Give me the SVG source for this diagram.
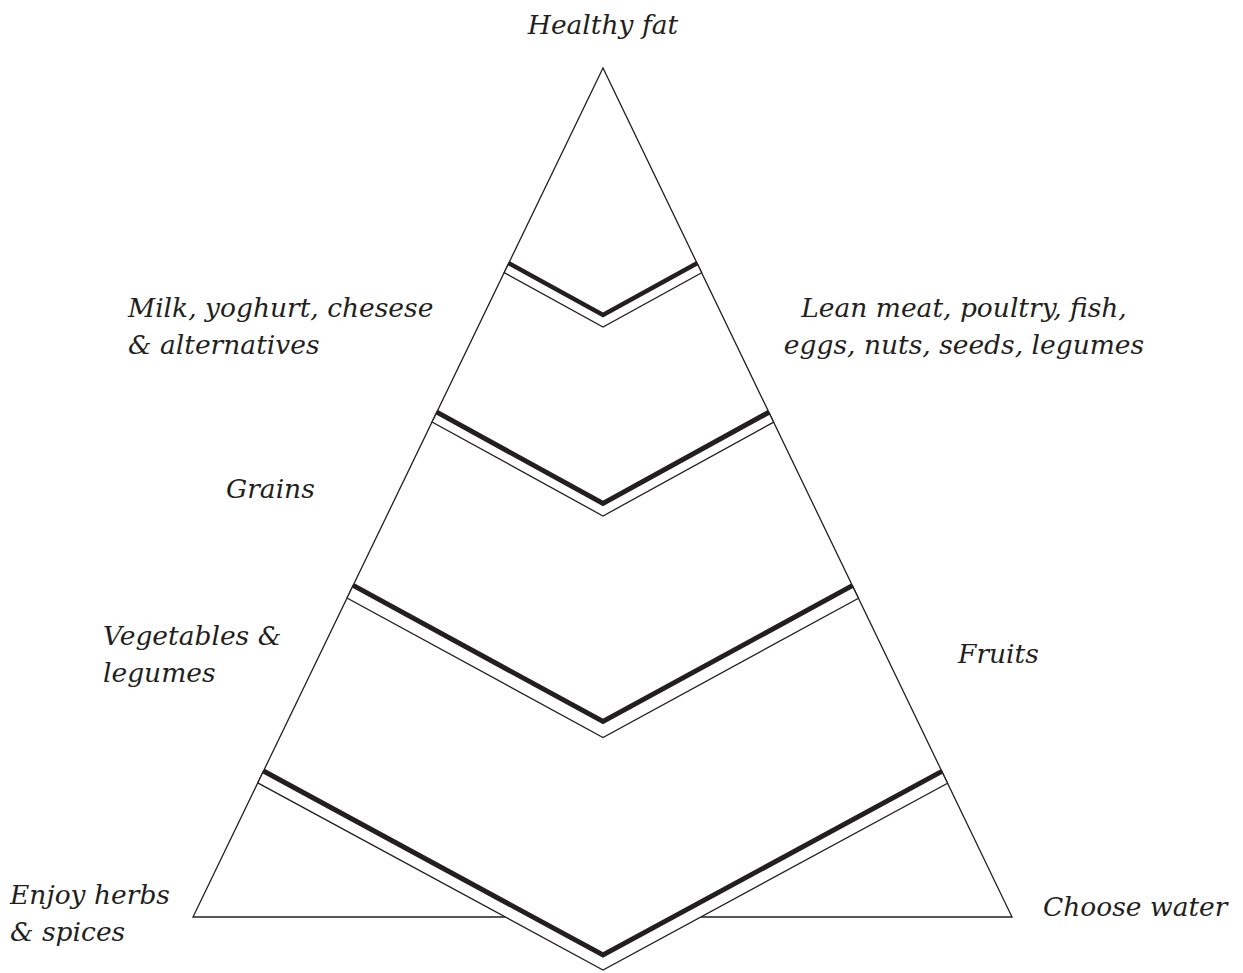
<svg xmlns="http://www.w3.org/2000/svg" width="1243" height="973" viewBox="0 0 1243 973">
<style>
.lbl{font-family:"DejaVu Serif","Liberation Serif",serif;font-style:italic;font-size:26.5px;fill:#231f20}
.tri{fill:none;stroke:#231f20;stroke-width:1.3}
.band{fill:#fff;stroke:#231f20;stroke-width:1.3;stroke-linejoin:miter}
.thick{fill:none;stroke:#231f20;stroke-width:5;stroke-linejoin:miter;stroke-miterlimit:10}
</style>
<rect width="1243" height="973" fill="#fff"/>
<g id="pyramid">
<polyline class="tri" points="505.2,917 193,917 603,68 1012,917 700.8,917"/>
</g>
<g id="connectors">
<g id="chevron1">
<polygon class="band" points="508.75,263.16 603,315 697.07,263.26 701.64,272.75 603,327 504.17,272.65"/>
<polyline class="thick" style="stroke-width:4.5" points="508.75,263.16 603,315 697.07,263.26"/>
</g>
<g id="chevron2">
<polygon class="band" points="436.83,412.1 603,503.5 768.85,412.28 773.62,422.16 603,516 432.06,421.98"/>
<polyline class="thick" points="436.83,412.1 603,503.5 768.85,412.28"/>
</g>
<g id="chevron3">
<polygon class="band" points="353.17,585.34 603,721.5 852.35,585.6 858.46,598.28 603,737.5 347.05,598.01"/>
<polyline class="thick" points="353.17,585.34 603,721.5 852.35,585.6"/>
</g>
<g id="chevron4">
<polygon class="band" points="263.51,770.99 603,955 941.83,771.35 947.56,783.25 603,970 257.77,782.88"/>
<polyline class="thick" points="263.51,770.99 603,955 941.83,771.35"/>
</g>
</g>
<g id="healthy-fat"><text class="lbl" x="603" y="34" text-anchor="middle">Healthy fat</text></g>
<g id="milk"><text class="lbl" x="128" y="317">Milk, yoghurt, chesese</text><text class="lbl" x="128" y="354">&amp; alternatives</text></g>
<g id="lean-meat"><text class="lbl" x="964" y="317" text-anchor="middle">Lean meat, poultry, fish,</text><text class="lbl" x="964" y="354" text-anchor="middle">eggs, nuts, seeds, legumes</text></g>
<g id="grains"><text class="lbl" x="226" y="498">Grains</text></g>
<g id="vegetables"><text class="lbl" x="103" y="645">Vegetables &amp;</text><text class="lbl" x="103" y="682">legumes</text></g>
<g id="fruits"><text class="lbl" x="958" y="663">Fruits</text></g>
<g id="herbs"><text class="lbl" x="10" y="904">Enjoy herbs</text><text class="lbl" x="10" y="941">&amp; spices</text></g>
<g id="water"><text class="lbl" x="1043" y="916">Choose water</text></g>
</svg>
